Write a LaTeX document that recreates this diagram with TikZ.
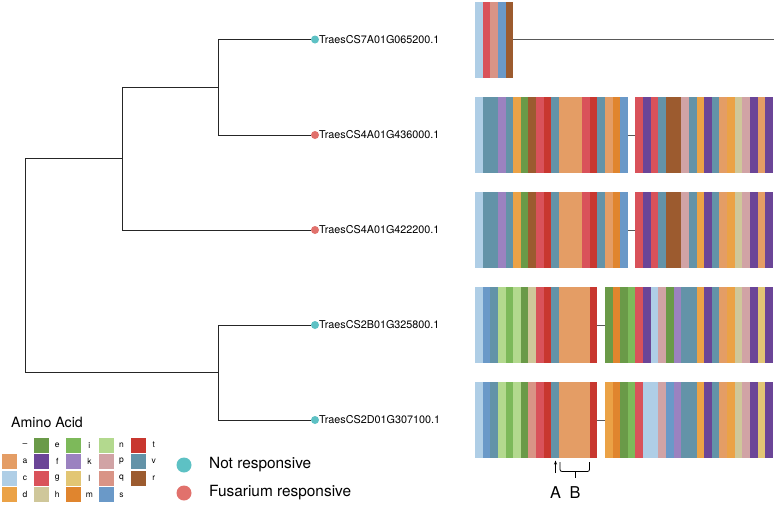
\documentclass[tikz,border=0pt]{standalone}
\usepackage{fontspec}
\setmainfont{TeX Gyre Heros}
\usetikzlibrary{arrows.meta}
% residue colours
\definecolor{aaa}{HTML}{E49D65}
\definecolor{aac}{HTML}{AFCEE6}
\definecolor{aad}{HTML}{EBA246}
\definecolor{aae}{HTML}{6A9A48}
\definecolor{aaf}{HTML}{6B4597}
\definecolor{aag}{HTML}{D9525A}
\definecolor{aah}{HTML}{CFC79A}
\definecolor{aai}{HTML}{7DB95A}
\definecolor{aak}{HTML}{9B82C0}
\definecolor{aal}{HTML}{E2C674}
\definecolor{aam}{HTML}{E0852E}
\definecolor{aan}{HTML}{B3D98E}
\definecolor{aap}{HTML}{D1A3A5}
\definecolor{aaq}{HTML}{D99486}
\definecolor{aas}{HTML}{6A99C8}
\definecolor{aat}{HTML}{C8372F}
\definecolor{aav}{HTML}{6393A8}
\definecolor{aar}{HTML}{9C5B2F}
\definecolor{nresp}{HTML}{5DC1C4}
\definecolor{fresp}{HTML}{E1716C}
% one run of aligned residues: row centre, first column, residues
\newcommand{\alnblock}[3]{%
  \foreach \res [count=\k from #2] in {#3}
    \fill[fill=aa\res] (475+7.64*\k,#1-38) rectangle ++(7.64,76);}
\begin{document}
\begin{tikzpicture}[x=1pt,y=-1pt,
  branch/.style={line width=0.8pt,black!85},
  tipdot/.style={circle,fill=#1,inner sep=0pt,minimum size=8pt},
  tiplab/.style={anchor=west,inner sep=0pt,font=\fontsize{10.8}{13}\selectfont},
  gapline/.style={line width=0.8pt,black!65},
  keylab/.style={font=\fontsize{8.5}{10}\selectfont,inner sep=0pt},
  resdot/.style={circle,fill=#1,inner sep=0pt,minimum size=15pt},
  reslab/.style={anchor=west,inner sep=0pt,font=\fontsize{15.4}{18}\selectfont}]
  \useasboundingbox (0,0) rectangle (774,504);
  % tips
  \node[tipdot=nresp] (t1) at (315,39.5) {};
  \node[tipdot=fresp] (t2) at (315,135) {};
  \node[tipdot=fresp] (t3) at (315,230) {};
  \node[tipdot=nresp] (t4) at (315,325) {};
  \node[tipdot=nresp] (t5) at (315,420) {};
  \node[tiplab] (l1) at (319,39.5) {TraesCS7A01G065200.1};
  \node[tiplab] (l2) at (319,135) {TraesCS4A01G436000.1};
  \node[tiplab] (l3) at (319,230) {TraesCS4A01G422200.1};
  \node[tiplab] (l4) at (319,325) {TraesCS2B01G325800.1};
  \node[tiplab] (l5) at (319,420) {TraesCS2D01G307100.1};
  % inner nodes of the tree
  \coordinate (nA) at (218,87.2);
  \coordinate (nB) at (122,158.6);
  \coordinate (nC) at (218,372.5);
  \coordinate (root) at (25,265.5);
  \draw[branch] (nA) |- (t1) (nA) |- (t2);
  \draw[branch] (nB) |- (nA) (nB) |- (t3);
  \draw[branch] (nC) |- (t4) (nC) |- (t5);
  \draw[branch] (root) |- (nB) (root) |- (nC);
  % alignment
  \alnblock{39.5}{0}{c,g,q,s,r}
  \draw[gapline] (475+7.64*5,39.5) -- (774,39.5);
  \foreach \y in {135,230} {
    \alnblock{\y}{0}{c,v,v,k,v,d,e,r,g,t,v,a,a,a,g,t,v,a,m,s}
    \draw[gapline] (475+7.64*20,\y) -- ++(7.64,0);
    \alnblock{\y}{21}{g,f,g,v,r,r,p,v,d,f,v,a,d,h,p,f,a,f}
  }
  \alnblock{325}{0}{c,s,v,n,i,n,e,h,g,t,v,a,a,a,a,t}
  \draw[gapline] (475+7.64*16,325) -- ++(7.64,0);
  \alnblock{325}{17}{e,m,e,i,g,f,c,p,e,k,v,v,d,f,v,a,d,h,p,f,l,f}
  \alnblock{420}{0}{c,s,v,n,i,n,e,q,g,t,v,a,a,a,a,t}
  \draw[gapline] (475+7.64*16,420) -- ++(7.64,0);
  \alnblock{420}{17}{d,m,e,i,g,c,c,p,s,k,v,v,d,f,v,a,d,h,p,f,l,f}
  % sites A and B
  \node[font=\fontsize{16.3}{19}\selectfont,inner sep=0pt] (siteA) at (555.5,493) {A};
  \node[font=\fontsize{16.3}{19}\selectfont,inner sep=0pt] (siteB) at (575,493) {B};
  \coordinate (tipA) at (555.5,460.5);
  \draw[line width=0.8pt,-{Stealth[length=4pt,width=3pt]}] (555.5,473) -- (tipA);
  \draw[line width=0.8pt,rounded corners=2pt] (560,462) -- (560,471.5) -- (589.5,471.5) -- (589.5,462);
  \draw[line width=0.8pt] (575,471.5) -- (575,478);
  % legend: amino acid
  \node[anchor=west,inner sep=0pt,font=\fontsize{14.2}{17}\selectfont] (aatitle) at (11,422) {Amino Acid};
  \node[keylab] (key-) at (25,445) {–};
  \foreach \lab/\cc/\rr in {a/0/1,c/0/2,d/0/3,e/1/0,f/1/1,g/1/2,h/1/3,i/2/0,k/2/1,l/2/2,m/2/3,n/3/0,p/3/1,q/3/2,s/3/3,t/4/0,v/4/1,r/4/2} {
    \fill[fill=aa\lab] (2+32.2*\cc,437.5+16.6*\rr) rectangle ++(15,15);
    \node[keylab] (key\lab) at (25+32.2*\cc,445+16.6*\rr) {\lab};
  }
  % legend: response
  \node[resdot=nresp] (dotN) at (184,465) {};
  \node[resdot=fresp] (dotF) at (184,493) {};
  \node[reslab] (labN) at (209,465) {Not responsive};
  \node[reslab] (labF) at (209,493) {Fusarium responsive};
\end{tikzpicture}
\end{document}
